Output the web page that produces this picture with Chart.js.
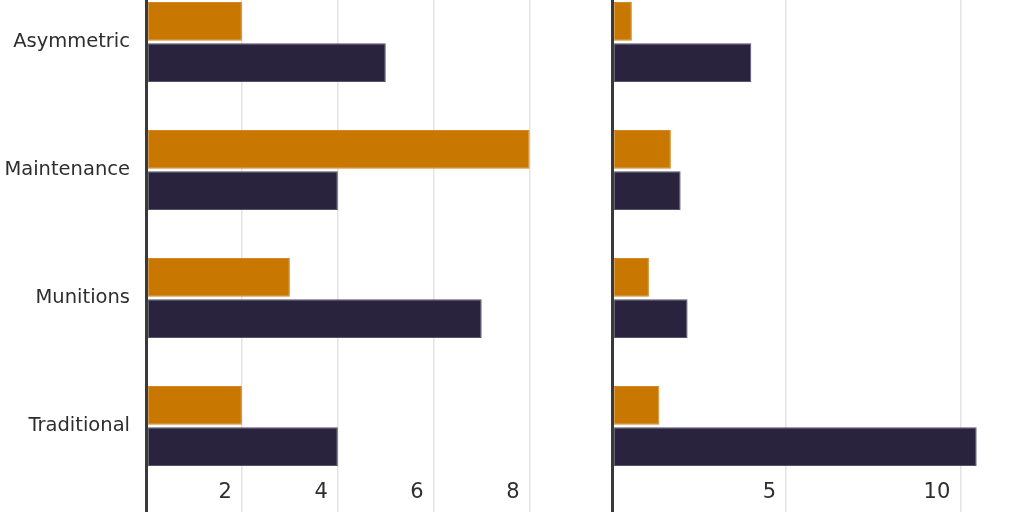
<!DOCTYPE html>
<html>
<head>
<meta charset="utf-8">
<script src="https://cdn.jsdelivr.net/npm/chart.js@4/dist/chart.umd.min.js"></script>
<style>
  html, body { margin: 0; padding: 0; width: 1024px; height: 512px; overflow: hidden; background: #fff; }
  .wrap { position: absolute; top: -22px; height: 540px; }
  #leftWrap { left: 0; width: 600px; }
  #rightWrap { left: 600px; width: 424px; }
</style>
</head>
<body>
<div class="wrap" id="leftWrap"><canvas id="leftChart"></canvas></div>
<div class="wrap" id="rightWrap"><canvas id="rightChart"></canvas></div>
<script>
// data
const categories = ['Asymmetric', 'Maintenance', 'Munitions', 'Traditional'];
const leftOrange = [2, 8, 3, 2];
const leftNavy = [5, 4, 7, 4];
const rightOrange = [0.57, 1.69, 1.06, 1.36];
const rightNavy = [4.0, 1.97, 2.17, 10.47];
const leftTickLabels = [2, 4, 6, 8];
const rightTickLabels = [5, 10];

const orange = '#c87800';
const navy = '#29233d';
const axisDark = '#3a3a3a';
const gridLight = '#e4e4e4';
const textColor = '#2e2e2e';

Chart.defaults.font.family = '"DejaVu Sans", sans-serif';
Chart.defaults.color = textColor;
Chart.defaults.animation = false;

// no automatic label padding, so both plots line up the same
function noPad(s) {
  s.paddingTop = 0;
  s.paddingBottom = 0;
  s.paddingLeft = 0;
  s.paddingRight = 0;
}

function makeChart(id, orangeData, navyData, tickLabels, step, maxVal, showCats, pad) {
  const ctx = document.getElementById(id);
  return new Chart(ctx, {
    type: 'bar',
    data: {
      labels: categories,
      datasets: [{
        label: 'A',
        data: orangeData,
        backgroundColor: orange,
        borderColor: '#d08a2a',
        borderWidth: 1,
        borderSkipped: false
      }, {
        label: 'B',
        data: navyData,
        backgroundColor: navy,
        borderColor: '#57526d',
        borderWidth: 1,
        borderSkipped: false
      }]
    },
    options: {
      indexAxis: 'y',
      responsive: true,
      maintainAspectRatio: false,
      categoryPercentage: 0.645,
      barPercentage: 0.94,
      layout: { padding: pad },
      plugins: {
        legend: { display: false },
        tooltip: { enabled: false }
      },
      scales: {
        x: {
          min: 0,
          max: maxVal,
          border: { display: false },
          grid: {
            color: (c) => c.tick && c.tick.value === 0 ? axisDark : gridLight,
            lineWidth: (c) => c.tick && c.tick.value === 0 ? 3 : 1.5,
            tickLength: 24
          },
          ticks: {
            stepSize: step,
            includeBounds: false,
            align: 'end',
            labelOffset: -10,
            padding: -34,
            maxRotation: 0,
            font: { size: 21 },
            callback: (v) => tickLabels.includes(v) ? String(v) : ''
          },
          afterFit: (s) => {
            s.height = 28;
            noPad(s);
            // labels sit slightly above the axis box, don't clip them
            s._computeLabelArea = () => undefined;
          }
        },
        y: {
          grid: { display: false, drawTicks: false },
          border: { display: true, color: axisDark, width: 3, z: 1 },
          ticks: {
            display: showCats,
            padding: 16,
            font: { size: 19.5 }
          },
          afterFit: (s) => { s.width = showCats ? 146 : 0; noPad(s); }
        }
      }
    }
  });
}

makeChart('leftChart', leftOrange, leftNavy, leftTickLabels, 2, 8.8, true,
  { left: 0, right: 32, top: 0, bottom: 0 });
makeChart('rightChart', rightOrange, rightNavy, rightTickLabels, 5, 11.8, false,
  { left: 12, right: 1, top: 0, bottom: 0 });
</script>
</body>
</html>
